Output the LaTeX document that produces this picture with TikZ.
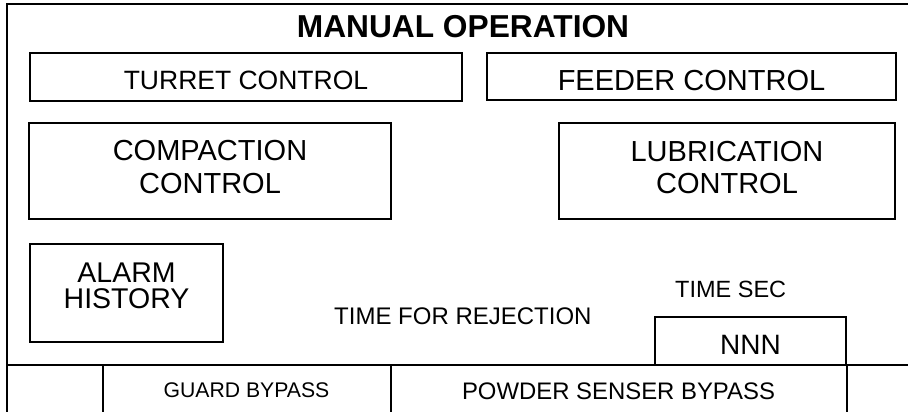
\documentclass[tikz,border=0pt]{standalone}
\usepackage{fontspec}
\setmainfont{Liberation Sans}

\begin{document}
\begin{tikzpicture}[x=1pt,y=-1pt,
  panel/.style={draw,line width=1.5pt,inner sep=0pt,align=center},
  label/.style={inner sep=0pt,align=center}]
\useasboundingbox (0,0) rectangle (908,412);

% frame of the screen and the bottom button row
\draw[line width=1.5pt] (908,4) -- (7,4) -- (7,412);
\draw[line width=1.5pt] (7,365) -- (908,365);
\foreach \xb in {103,391,847}
  \draw[line width=1.5pt] (\xb,365) -- (\xb,412);

\node[label,anchor=base,font=\fontsize{31.7}{34}\selectfont\bfseries] (title) at (463,38) {MANUAL OPERATION};

\node[panel,minimum width=432,minimum height=48,text height=24pt,text depth=0pt,
  font=\fontsize{26.5}{30}\selectfont] (turret) at (246,77) {TURRET CONTROL};
\node[panel,minimum width=409,minimum height=47,text height=29pt,text depth=0pt,
  font=\fontsize{29}{32}\selectfont] (feeder) at (691.5,76.5) {FEEDER CONTROL};

% two-line buttons: the frame first, then its text
\node[panel,minimum width=362,minimum height=96] (compaction) at (210,171) {};
\node[label,font=\fontsize{29}{33}\selectfont] (compactiontext) at ([yshift=3.5pt]compaction.center)
  {COMPACTION\\CONTROL};
\node[panel,minimum width=336,minimum height=96] (lubrication) at (727,171) {};
\node[label,font=\fontsize{29}{32}\selectfont] (lubricationtext) at ([yshift=3.5pt]lubrication.center)
  {LUBRICATION\\CONTROL};

\node[panel,minimum width=193,minimum height=98] (alarm) at (126.5,293) {};
\node[label,font=\fontsize{28.5}{26}\selectfont] (alarmtext) at ([yshift=7.5pt]alarm.center)
  {ALARM\\HISTORY};

\node[label,anchor=base west,font=\fontsize{24}{27}\selectfont] (rejection) at (334,324) {TIME FOR REJECTION};
\node[label,anchor=base west,font=\fontsize{23.5}{27}\selectfont] (timesec) at (675,297) {TIME SEC};
\node[panel,minimum width=191,minimum height=48,text height=26pt,text depth=0pt,
  font=\fontsize{28}{31}\selectfont] (nnn) at (750.5,341) {NNN};

\node[label,anchor=base,font=\fontsize{21.2}{24}\selectfont] (guard) at (246.5,397) {GUARD BYPASS};
\node[label,anchor=base,font=\fontsize{23.9}{27}\selectfont] (powder) at (618.5,399) {POWDER SENSER BYPASS};
\end{tikzpicture}
\end{document}
